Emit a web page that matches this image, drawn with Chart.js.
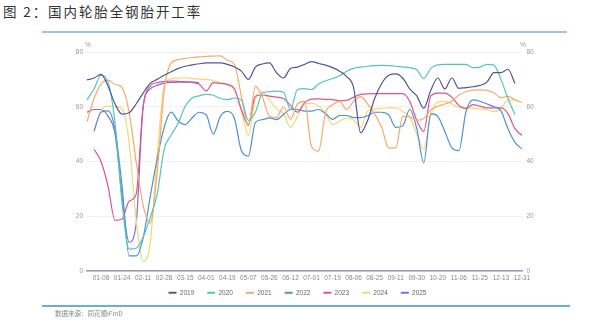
<!DOCTYPE html>
<html>
<head>
<meta charset="utf-8">
<script src="https://cdn.jsdelivr.net/npm/chart.js@4.4.1/dist/chart.umd.min.js"></script>
<style>
  body { margin: 0; width: 595px; height: 326px; background: #fff; position: relative; overflow: hidden; font-family: "Liberation Sans", Arial, sans-serif; }
  #title { position: absolute; left: 3px; top: 1px; font-size: 13.5px; font-family: "Noto Sans CJK SC", sans-serif; color: #333; letter-spacing: 1.9px; white-space: nowrap; }
  #topline { position: absolute; left: 42px; top: 31px; width: 525px; height: 1.5px; background: #9cc4e4; }
  #botline { position: absolute; left: 42px; top: 305px; width: 528px; height: 1.5px; background: #6aaedc; }
  #source { position: absolute; left: 55px; top: 308px; font-size: 6.5px; font-family: "Noto Sans CJK SC", sans-serif; color: #888; }
  .unit { position: absolute; top: 41px; font-size: 6.5px; color: #999; }
  #wrap { position: absolute; left: 0; top: 0; width: 595px; height: 306px; }
</style>
</head>
<body>
<div id="title">图 2：国内轮胎全钢胎开工率</div>
<div id="topline"></div>
<div id="wrap"><canvas id="chart"></canvas></div>
<div class="unit" style="left:85px">%</div>
<div class="unit" style="left:520px">%</div>
<div id="botline"></div>
<div id="source">数据来源：同花顺iFinD</div>

<script>
// ---- Data ----
const categories = [
  '01-01','01-04','01-08','01-13','01-19','01-24','01-30','02-05','02-11','02-17',
  '02-23','02-28','03-05','03-10','03-15','03-21','03-27','04-01','04-07','04-13',
  '04-19','04-25','05-01','05-07','05-13','05-20','05-26','06-01','06-06','06-12',
  '06-18','06-25','07-01','07-07','07-13','07-19','07-25','07-31','08-06','08-12',
  '08-19','08-25','08-31','09-05','09-11','09-17','09-24','09-30','10-07','10-13',
  '10-20','10-26','11-01','11-06','11-12','11-19','11-25','12-01','12-07','12-13',
  '12-19','12-25','12-31'
];

const tickLabels = ['01-08','01-24','02-11','02-28','03-15','04-01','04-19','05-07','05-26','06-12',
  '07-01','07-19','08-06','08-25','09-11','09-30','10-20','11-06','11-25','12-13','12-31'];

const seriesNames = ['2019','2020','2021','2022','2023','2024','2025'];
const seriesColors = ['#4f5796','#55c6b5','#f4aa6b','#4e91d6','#dc5592','#f6d676','#7d6ed9'];

const y2019 = [69.8,70.5,71.8,67.5,61,57.3,57.8,61,65,68.5,
  70,71.5,72.8,74,74.8,75.3,75.7,76,76,76,
  75.5,74.6,73,70,74.5,75.6,76,72.5,70.5,74,
  74.5,75.5,76.5,75.8,75.2,74.3,73,71,67,50.5,
  55,63,68.5,71.5,72,70.5,66.5,64,59.5,66,
  70.5,66.5,70.5,66.7,67,67.3,67.8,69,72.5,72.5,
  73.7,68.5];

const y2020 = [62.5,66.5,71.5,69,54,25,8,8.3,12.3,19.5,
  28,44.5,49.7,54,60.2,63.2,64,64.5,64.2,63,
  62.6,63.2,62.5,55,58,65,65.5,65.7,65.3,59,
  66.3,66.6,66.3,68.3,69.5,70.3,71.3,73,74,74.5,
  74.8,75,75.1,75,74.8,74.5,74.3,73.5,70.3,74,
  75.3,75.5,75.5,75.5,75.5,74.3,74.5,75.5,75.2,70,
  63,57.1];

const y2021 = [54.5,63,68.3,69.7,68.2,67,58,40,24,17.5,
  36,66,76,77.2,77.7,78,78.2,78.4,78.5,78.6,
  77,75.5,64,53,67.5,63.5,56.5,56,60,55.5,
  61,62,45.5,43.8,57.8,60.7,62,59,62,63.7,
  61,57.3,52.5,45,45,56.5,56.3,55,55.7,58.8,
  60.2,61,62,64.3,65.5,66.1,66.2,66,65,63.3,
  63.8,62.5,61.5];

const y2022 = [null,51,58,58.5,51.6,31,5.5,5.5,12,27,
  41,52.5,58,54.8,53.5,56,58,57,50,56.5,
  58.3,55.8,44,42,54.3,55.3,55.9,55.3,57.2,59,
  59,58.4,58.4,59,57.5,55.4,56.8,56.8,56,56,
  56.7,58,58,57,52.5,53,59,52,39.5,57.5,
  56.5,51,45,44,58,62.5,62,61,60,58.5,
  52,47,44.5];

const y2023 = [null,44.5,40,31,18.5,19,25.5,28,60,67.5,
  68.8,69.2,69.4,69.3,69.1,68.9,68.2,65.8,68.8,68.5,
  68.1,66.5,59,53.5,63.8,64.3,63.9,63.5,63,60.5,
  58,61.5,62.8,62.9,62.7,62.6,62.2,62.3,63.5,64.5,
  64.7,64.8,64.8,64.8,64.8,64.8,62,55,51,64,
  65,65,63.5,60.5,59.3,60.8,60.2,59.6,59.6,59.6,
  57.5,52,49.5];

const y2024 = [null,51.5,58.5,60.2,60,59.3,47,19,3.5,10,
  42,67.5,70.2,70.5,70.6,70.3,70.1,70,69.6,68.8,
  68.3,67,58.5,49.5,63,65.5,62.5,59.3,57.5,52.5,
  56.5,61,61.3,60.4,57.5,53.5,54.7,55.8,55.2,52.5,
  58.4,59.1,59.4,59.6,59.6,58.3,56.3,50,44.5,56.8,
  61.8,62,61,59.8,59.6,59.5,59.2,59,58.2,59.3,
  62.5,62.6];

const y2025 = [58,59,59,56.5,50,27,10.5,17,60,66.5,
  67.8,68.6,68.9,69,69,69,68.8];

const seriesValues = [y2019, y2020, y2021, y2022, y2023, y2024, y2025];

// ---- Chart ----
const datasets = seriesNames.map((name, i) => ({
  label: name,
  data: seriesValues[i],
  borderColor: seriesColors[i],
  backgroundColor: seriesColors[i],
  borderWidth: 1.2,
  pointRadius: 0,
  pointHoverRadius: 0,
  fill: false,
  cubicInterpolationMode: 'monotone'
}));

const tickFont = { size: 6.5, family: '"Liberation Sans", Arial, sans-serif' };

new Chart(document.getElementById('chart'), {
  type: 'line',
  data: { labels: categories, datasets },
  options: {
    responsive: true,
    maintainAspectRatio: false,
    animation: false,
    layout: { padding: { top: 52, left: 0, right: 0, bottom: 0 } },
    plugins: {
      tooltip: { enabled: false },
      legend: {
        position: 'bottom',
        align: 'center',
        labels: {
          boxWidth: 8,
          boxHeight: 2,
          padding: 6.5,
          color: '#666',
          font: { size: 6.5, family: '"Liberation Sans", Arial, sans-serif' },
          // trailing em space widens the gap between items without moving the row down
          generateLabels: (chart) => {
            const items = Chart.defaults.plugins.legend.labels.generateLabels(chart);
            items.forEach((it, i) => {
              it.lineWidth = 0;
              if (i < items.length - 1) it.text = it.text + '\u2003';
            });
            return items;
          }
        }
      }
    },
    scales: {
      x: {
        grid: { display: false, drawTicks: false },
        border: { display: true, color: '#9597ab', width: 1.5 },
        ticks: {
          autoSkip: false,
          maxRotation: 0,
          padding: 3,
          color: '#888',
          font: tickFont,
          callback: (v, idx) => tickLabels.includes(categories[idx]) ? categories[idx] : ''
        },
        afterFit: (s) => { s.height = 12; }
      },
      y: {
        position: 'left',
        min: 0, max: 80,
        ticks: { stepSize: 20, color: '#999', font: tickFont, padding: 4 },
        grid: { color: '#f1f1f1', drawTicks: false, lineWidth: 1 },
        border: { display: false },
        afterFit: (s) => { s.width = 87; }
      },
      y2: {
        position: 'right',
        min: 0, max: 80,
        ticks: { stepSize: 20, color: '#999', font: tickFont, padding: 4.5 },
        grid: { display: false, drawTicks: false },
        border: { display: false },
        afterFit: (s) => { s.width = 73; }
      }
    }
  }
});
</script>
</body>
</html>
